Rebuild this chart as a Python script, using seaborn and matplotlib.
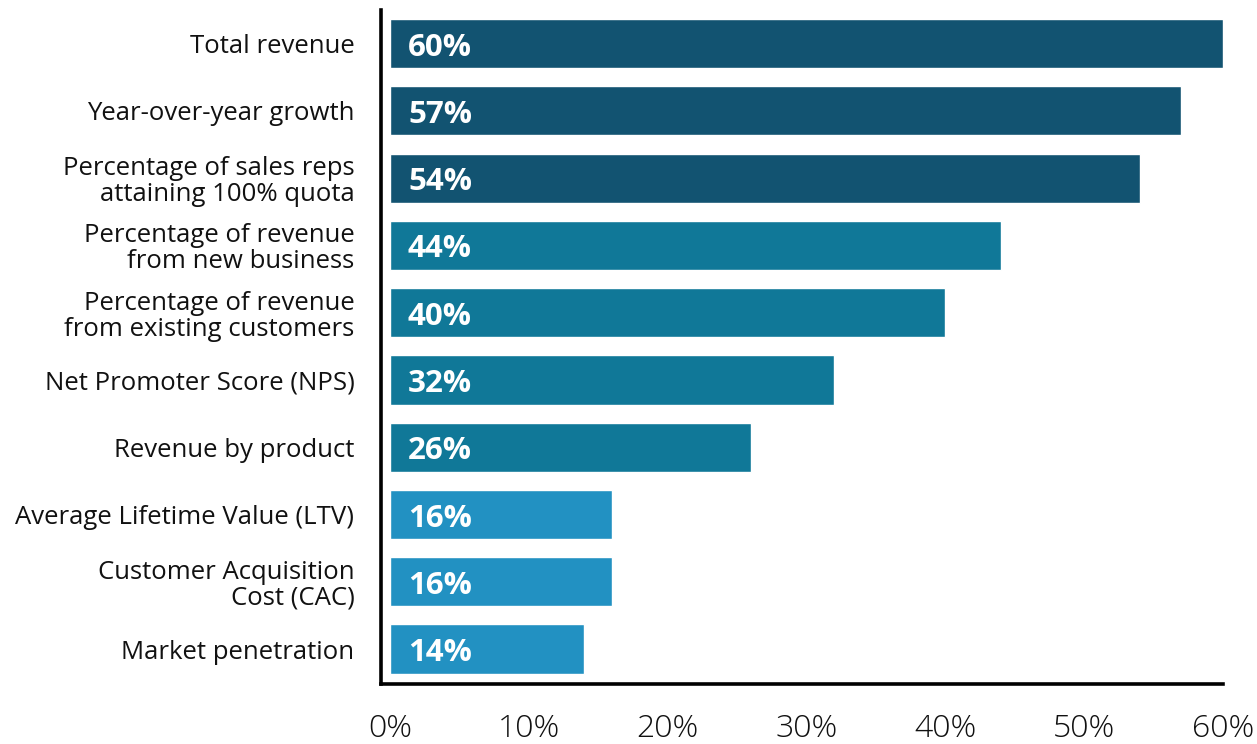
import matplotlib
matplotlib.use("Agg")
import matplotlib.pyplot as plt
import seaborn as sns
import pandas as pd
from matplotlib.ticker import FuncFormatter

categories = [
    "Total revenue",
    "Year-over-year growth",
    "Percentage of sales reps\nattaining 100% quota",
    "Percentage of revenue\nfrom new business",
    "Percentage of revenue\nfrom existing customers",
    "Net Promoter Score (NPS)",
    "Revenue by product",
    "Average Lifetime Value (LTV)",
    "Customer Acquisition\nCost (CAC)",
    "Market penetration",
]
values = [60, 57, 54, 44, 40, 32, 26, 16, 16, 14]
tiers = ["top", "top", "top", "mid", "mid", "mid", "mid", "low", "low", "low"]
tier_colors = {"top": "#125371", "mid": "#107898", "low": "#2291C2"}
x_ticks = [0, 10, 20, 30, 40, 50, 60]

df = pd.DataFrame({"metric": categories, "share": values, "tier": tiers})

sns.set_theme(style="white")
plt.rcParams["font.family"] = ["Open Sans", "DejaVu Sans"]

fig = plt.figure(figsize=(12.57, 7.44), dpi=100)
ax = fig.add_axes([0.303, 0.0806, 0.670, 0.906])

sns.barplot(data=df, y="metric", x="share", hue="tier", palette=tier_colors,
            dodge=False, legend=False, width=0.73, orient="h",
            saturation=1, ax=ax)

for i, v in enumerate(values):
    ax.text(1.3, i + 0.06, f"{v}%", color="white", fontsize=22.5,
            fontweight="bold", va="center", ha="left")

ax.set_xlim(-0.65, 60)
ax.set_ylim(9.52, -0.5)
ax.set_xticks(x_ticks)
ax.xaxis.set_major_formatter(FuncFormatter(lambda v, p: f"{v:.0f}%"))
ax.set_xlabel("")
ax.set_ylabel("")

for s in ["top", "right"]:
    ax.spines[s].set_visible(False)
for s in ["left", "bottom"]:
    ax.spines[s].set_color("black")
    ax.spines[s].set_linewidth(2.6)

ax.tick_params(axis="x", length=0, pad=21, labelsize=23, labelcolor="#111111")
ax.tick_params(axis="y", length=0, pad=19, labelsize=18.5, labelcolor="#111111")
for lbl in ax.get_xticklabels():
    lbl.set_fontweight("light")
for lbl in ax.get_yticklabels():
    lbl.set_horizontalalignment("right")
    lbl.set_multialignment("right")
    lbl.set_linespacing(1.05)

fig.savefig("out.png", dpi=100, facecolor="white")
